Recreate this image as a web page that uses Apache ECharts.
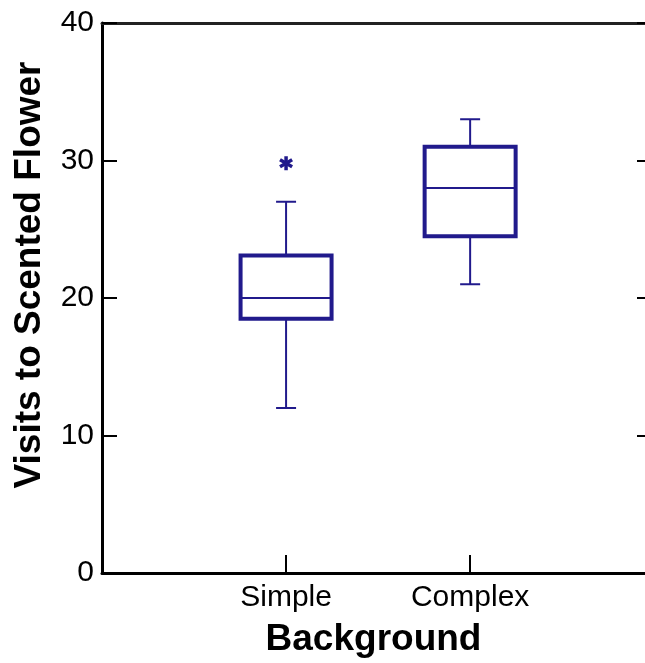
<!DOCTYPE html>
<html>
<head>
<meta charset="utf-8">
<script src="https://cdn.jsdelivr.net/npm/echarts@6/dist/echarts.min.js"></script>
<style>
  html, body { margin: 0; padding: 0; background: #fff; }
  #chart { width: 645px; height: 663px; }
</style>
</head>
<body>
<div id="chart"></div>
<script>
// box summaries
const groups = ["Simple", "Complex"];
const whiskerLow = [12, 21];
const q1 = [18.5, 24.5];
const median = [20, 28];
const q3 = [23.1, 31];
const whiskerHigh = [27, 33];
const outliers = [[1, 29.8]]; // [group position, value]
const yTicks = [0, 10, 20, 30, 40];

const boxColor = "#211a8c";
const font = "'Liberation Sans', Arial, sans-serif";

const boxData = groups.map((g, i) => [i + 1, whiskerLow[i], q1[i], median[i], q3[i], whiskerHigh[i]]);
const groupPos = groups.map((g, i) => i + 1);

const chart = echarts.init(document.getElementById("chart"));

const renderBox = (params, api) => {
  const x = api.value(0);
  const lo = api.coord([x, api.value(1)]);
  const p1 = api.coord([x, api.value(2)]);
  const md = api.coord([x, api.value(3)]);
  const p3 = api.coord([x, api.value(4)]);
  const hi = api.coord([x, api.value(5)]);
  const c = lo[0];
  const half = 45.5, cap = 10;
  const thin = { stroke: boxColor, lineWidth: 2 };
  return {
    type: "group",
    children: [
      { type: "line", shape: { x1: c, y1: p3[1], x2: c, y2: hi[1] }, style: thin },
      { type: "line", shape: { x1: c - cap, y1: hi[1], x2: c + cap, y2: hi[1] }, style: thin },
      { type: "line", shape: { x1: c, y1: p1[1], x2: c, y2: lo[1] }, style: thin },
      { type: "line", shape: { x1: c - cap, y1: lo[1], x2: c + cap, y2: lo[1] }, style: thin },
      { type: "line", shape: { x1: c - half, y1: md[1], x2: c + half, y2: md[1] }, style: thin },
      {
        type: "rect",
        shape: { x: c - half, y: p3[1], width: half * 2, height: p1[1] - p3[1] },
        style: { fill: "none", stroke: boxColor, lineWidth: 4 }
      }
    ]
  };
};

const renderStar = (params, api) => {
  const p = api.coord([api.value(0), api.value(1)]);
  const r = 7;
  const st = { stroke: boxColor, lineWidth: 3.5 };
  const arms = [90, 30, -30].map(a => {
    const dx = r * Math.cos(a * Math.PI / 180), dy = r * Math.sin(a * Math.PI / 180);
    return { type: "line", shape: { x1: p[0] - dx, y1: p[1] - dy, x2: p[0] + dx, y2: p[1] + dy }, style: st };
  });
  return { type: "group", children: arms };
};

const option = {
  animation: false,
  backgroundColor: "#fff",
  grid: { left: 102, right: 0, top: 23, bottom: 84 },
  xAxis: [
    {
      type: "value",
      min: 0,
      max: 2.95,
      name: "Background",
      nameLocation: "middle",
      nameGap: 48,
      nameTextStyle: { fontFamily: font, fontSize: 37, fontWeight: "bold", color: "#000" },
      splitLine: { show: false },
      axisLine: { onZero: false, lineStyle: { color: "#000", width: 3 } },
      axisTick: { inside: true, length: 18, customValues: groupPos, lineStyle: { color: "#000", width: 2 } },
      axisLabel: {
        fontFamily: font,
        fontSize: 30,
        color: "#000",
        margin: 10,
        customValues: groupPos,
        formatter: v => groups[Math.round(v) - 1] || ""
      }
    },
    {
      type: "value",
      position: "top",
      min: 0,
      max: 2.95,
      splitLine: { show: false },
      axisLine: { show: true, onZero: false, lineStyle: { color: "#222", width: 3 } },
      axisTick: { show: false },
      axisLabel: { show: false }
    }
  ],
  yAxis: [
    {
      type: "value",
      min: yTicks[0],
      max: yTicks[yTicks.length - 1],
      interval: 10,
      name: "Visits to Scented Flower",
      nameLocation: "middle",
      nameGap: 54,
      nameTextStyle: {
        fontFamily: font,
        fontSize: 37,
        fontWeight: "bold",
        color: "#000",
        padding: [0, 0, 0, 46]
      },
      splitLine: { show: false },
      axisLine: { show: true, onZero: false, lineStyle: { color: "#000", width: 3 } },
      axisTick: { inside: true, length: 15, lineStyle: { color: "#000", width: 2 } },
      axisLabel: { fontFamily: font, fontSize: 30, color: "#000", margin: 8 }
    },
    {
      type: "value",
      position: "right",
      min: yTicks[0],
      max: yTicks[yTicks.length - 1],
      interval: 10,
      splitLine: { show: false },
      axisLine: { show: false, onZero: false },
      axisTick: { show: true, inside: true, length: 8, lineStyle: { color: "#000", width: 2 } },
      axisLabel: { show: false }
    }
  ],
  series: [
    {
      type: "custom",
      renderItem: renderBox,
      encode: { x: 0, y: [1, 2, 3, 4, 5] },
      data: boxData
    },
    {
      type: "custom",
      renderItem: renderStar,
      encode: { x: 0, y: 1 },
      data: outliers
    }
  ]
};

chart.setOption(option);
</script>
</body>
</html>
